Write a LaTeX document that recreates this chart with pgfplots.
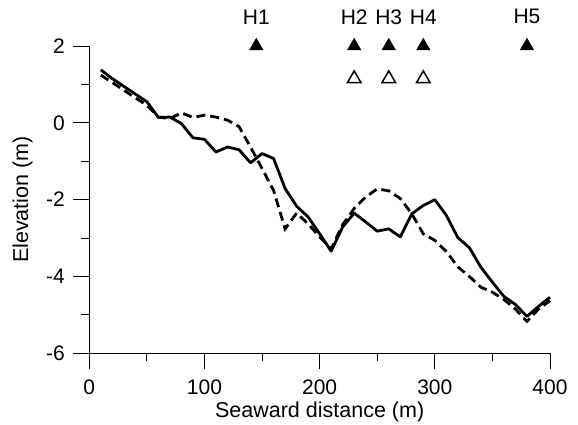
\documentclass[border=0pt]{standalone}
\usepackage{pgfplots}
\pgfplotsset{compat=1.18}
\usepackage{fontspec}
\setmainfont{Liberation Sans}
\begin{document}
\fontsize{21bp}{24bp}\selectfont
\begin{tikzpicture}
\path[use as bounding box] (-89.3bp,-71.7bp) rectangle (488.7bp,353.3bp);
\begin{axis}[
 at={(0,0)}, anchor=south west,
 scale only axis, width=460.7bp, height=307.3bp,
 xmin=0,xmax=400,ymin=-6,ymax=2,
 axis lines=left, axis line style={-, line width=1bp},
 clip=false,
 xtick={0,100,200,300,400}, ytick={-6,-4,-2,0,2},
 minor x tick num=1, minor y tick num=1,
 tick align=outside, major tick length=16bp, minor tick length=8bp,
 tick style={black, line width=1bp},
 /pgf/number format/assume math mode=true,
 tick label style={font=\fontsize{21bp}{24bp}\selectfont},
 xticklabel style={inner sep=0pt, yshift=-10.5bp},
 yticklabel style={inner sep=0pt, xshift=-8.3bp},
 label style={font=\fontsize{21.5bp}{24bp}\selectfont},
 xlabel={Seaward distance (m)}, ylabel={Elevation (m)},
 xlabel style={at={(axis description cs:0.5,-0.19)}, anchor=center},
 ylabel style={at={(axis description cs:-0.145,0.5)}, anchor=center},
]
\addplot[black, line width=2.8bp, line join=round] coordinates {
(10,1.38) (20,1.15) (30,0.95) (40,0.75) (50,0.55) (60,0.14) (70,0.15) (80,-0.02) (90,-0.39) (100,-0.43)
(110,-0.76) (120,-0.63) (130,-0.70) (140,-1.04) (150,-0.80) (160,-0.93) (170,-1.71) (180,-2.17) (190,-2.45) (200,-2.89)
(210,-3.34) (220,-2.71) (230,-2.35) (240,-2.58) (250,-2.82) (260,-2.76) (270,-2.97) (280,-2.37) (290,-2.15) (300,-2.00)
(310,-2.41) (320,-2.99) (330,-3.25) (340,-3.76) (350,-4.15) (360,-4.52) (370,-4.73) (380,-5.04) (390,-4.78) (400,-4.54)
};
\addplot[black, line width=2.8bp, dash pattern=on 9bp off 5bp] coordinates {
(10,1.24) (20,1.05) (30,0.85) (40,0.65) (50,0.46) (60,0.15) (70,0.11) (80,0.26) (90,0.14) (100,0.20)
(110,0.15) (120,0.07) (130,-0.10) (140,-0.63) (150,-1.19) (160,-1.76) (170,-2.76) (180,-2.35) (190,-2.63) (200,-2.97)
(210,-3.28) (220,-2.65) (230,-2.23) (240,-1.93) (250,-1.72) (260,-1.77) (270,-1.97) (280,-2.37) (290,-2.89) (300,-3.06)
(310,-3.35) (320,-3.75) (330,-4.00) (340,-4.28) (350,-4.41) (360,-4.60) (370,-4.85) (380,-5.17) (390,-4.85) (400,-4.63)
};
\addplot[only marks, mark=triangle*, mark size=7.8pt, black] coordinates {(145,2) (230,2) (260,2) (290,2) (380,2)};
\addplot[only marks, mark=triangle, mark size=7.8pt, black, mark options={line width=1.5bp, fill=white}] coordinates {(230,1.15) (260,1.15) (290,1.15)};
\node at (axis cs:145,2.76) {H1};
\node at (axis cs:230,2.76) {H2};
\node at (axis cs:260,2.76) {H3};
\node at (axis cs:290,2.76) {H4};
\node at (axis cs:380,2.76) {H5};
\end{axis}
\end{tikzpicture}
\end{document}
